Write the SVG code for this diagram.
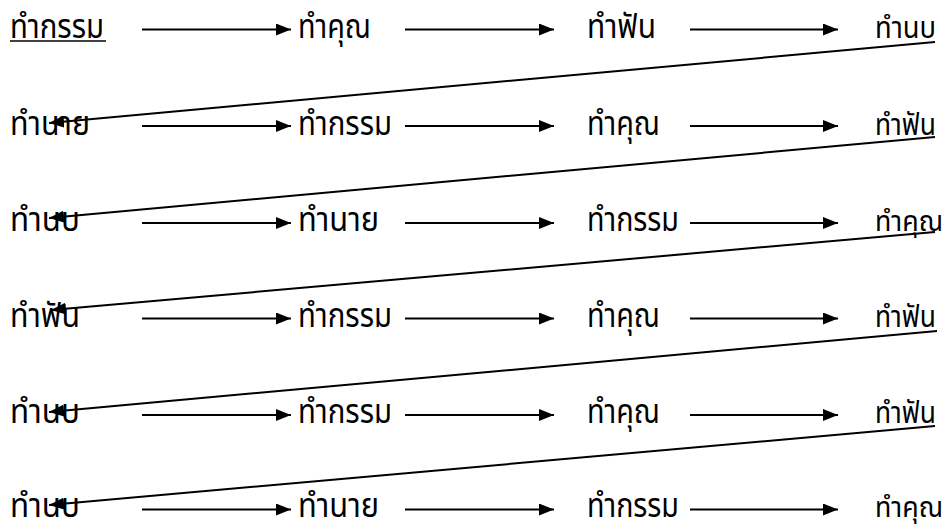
<svg xmlns="http://www.w3.org/2000/svg" width="951" height="530" viewBox="0 0 951 530">
<defs>
<style>
text{font-family:"Noto Sans","Noto Sans Thai","Tahoma",sans-serif;font-size:34px;fill:#000}
text.r{font-size:31px}
text.k{font-size:29px}
.c line{stroke:#000;stroke-width:2;fill:none}
.h{marker-end:url(#ah)}
.d{marker-end:url(#ah)}
</style>
<marker id="ah" viewBox="0 0 10 10" refX="10" refY="5" markerWidth="15" markerHeight="12" markerUnits="userSpaceOnUse" orient="auto" preserveAspectRatio="none">
<path d="M0,0 L10,5 L0,10 Z" fill="#000"/>
</marker>
</defs>
<rect width="951" height="530" fill="#fff"/>
<g id="r1c1"><text x="10" y="38" textLength="94" lengthAdjust="spacingAndGlyphs">ทำกรรม</text><line x1="10" y1="41" x2="106" y2="41" stroke="#000" stroke-width="1.5"/></g>
<g id="r1c2"><text x="298" y="38" textLength="73" lengthAdjust="spacingAndGlyphs">ทำคุณ</text></g>
<g id="r1c3"><text x="587" y="38" textLength="69" lengthAdjust="spacingAndGlyphs">ทำฟัน</text></g>
<g id="r1c4"><text class="r" x="875" y="38" textLength="61" lengthAdjust="spacingAndGlyphs">ทำนบ</text></g>
<g id="r2c1"><text x="10" y="135" textLength="80" lengthAdjust="spacingAndGlyphs">ทำนาย</text></g>
<g id="r2c2"><text x="298" y="135" textLength="94" lengthAdjust="spacingAndGlyphs">ทำกรรม</text></g>
<g id="r2c3"><text x="587" y="135" textLength="73" lengthAdjust="spacingAndGlyphs">ทำคุณ</text></g>
<g id="r2c4"><text class="r" x="875" y="135" textLength="61" lengthAdjust="spacingAndGlyphs">ทำฟัน</text></g>
<g id="r3c1"><text x="10" y="231" textLength="70" lengthAdjust="spacingAndGlyphs">ทำนบ</text></g>
<g id="r3c2"><text x="298" y="231" textLength="81" lengthAdjust="spacingAndGlyphs">ทำนาย</text></g>
<g id="r3c3"><text x="587" y="231" textLength="92" lengthAdjust="spacingAndGlyphs">ทำกรรม</text></g>
<g id="r3c4"><text class="k" x="875" y="231" textLength="68" lengthAdjust="spacingAndGlyphs">ทำคุณ</text></g>
<g id="r4c1"><text x="10" y="327" textLength="70" lengthAdjust="spacingAndGlyphs">ทำฟัน</text></g>
<g id="r4c2"><text x="298" y="327" textLength="94" lengthAdjust="spacingAndGlyphs">ทำกรรม</text></g>
<g id="r4c3"><text x="587" y="327" textLength="73" lengthAdjust="spacingAndGlyphs">ทำคุณ</text></g>
<g id="r4c4"><text class="r" x="875" y="327" textLength="61" lengthAdjust="spacingAndGlyphs">ทำฟัน</text></g>
<g id="r5c1"><text x="10" y="423" textLength="70" lengthAdjust="spacingAndGlyphs">ทำนบ</text></g>
<g id="r5c2"><text x="298" y="423" textLength="94" lengthAdjust="spacingAndGlyphs">ทำกรรม</text></g>
<g id="r5c3"><text x="587" y="423" textLength="73" lengthAdjust="spacingAndGlyphs">ทำคุณ</text></g>
<g id="r5c4"><text class="r" x="875" y="423" textLength="61" lengthAdjust="spacingAndGlyphs">ทำฟัน</text></g>
<g id="r6c1"><text x="10" y="517" textLength="70" lengthAdjust="spacingAndGlyphs">ทำนบ</text></g>
<g id="r6c2"><text x="298" y="517" textLength="81" lengthAdjust="spacingAndGlyphs">ทำนาย</text></g>
<g id="r6c3"><text x="587" y="517" textLength="92" lengthAdjust="spacingAndGlyphs">ทำกรรม</text></g>
<g id="r6c4"><text class="k" x="875" y="517" textLength="68" lengthAdjust="spacingAndGlyphs">ทำคุณ</text></g>
<g id="connectors" class="c">
<line class="h" x1="142" y1="29.5" x2="291" y2="29.5"/>
<line class="h" x1="405" y1="29.5" x2="554" y2="29.5"/>
<line class="h" x1="690" y1="29.5" x2="838" y2="29.5"/>
<line class="h" x1="142" y1="126" x2="291" y2="126"/>
<line class="h" x1="405" y1="126" x2="554" y2="126"/>
<line class="h" x1="690" y1="126" x2="838" y2="126"/>
<line class="h" x1="142" y1="223" x2="291" y2="223"/>
<line class="h" x1="405" y1="223" x2="554" y2="223"/>
<line class="h" x1="690" y1="223" x2="838" y2="223"/>
<line class="h" x1="142" y1="318.5" x2="291" y2="318.5"/>
<line class="h" x1="405" y1="318.5" x2="554" y2="318.5"/>
<line class="h" x1="690" y1="318.5" x2="838" y2="318.5"/>
<line class="h" x1="142" y1="415" x2="291" y2="415"/>
<line class="h" x1="405" y1="415" x2="554" y2="415"/>
<line class="h" x1="690" y1="415" x2="838" y2="415"/>
<line class="h" x1="142" y1="509.5" x2="291" y2="509.5"/>
<line class="h" x1="405" y1="509.5" x2="554" y2="509.5"/>
<line class="h" x1="690" y1="509.5" x2="838" y2="509.5"/>
<line class="d" x1="935" y1="42" x2="49" y2="123"/>
<line class="d" x1="935" y1="137" x2="49" y2="218"/>
<line class="d" x1="935" y1="232" x2="51" y2="310"/>
<line class="d" x1="937" y1="331" x2="49" y2="412"/>
<line class="d" x1="935" y1="426" x2="49" y2="505"/>
</g>
</svg>
